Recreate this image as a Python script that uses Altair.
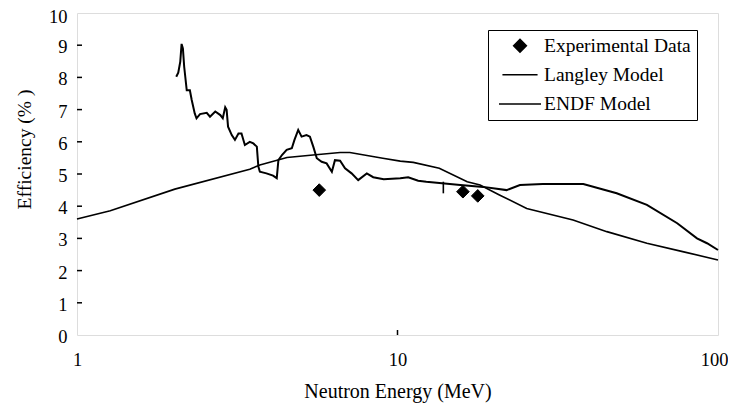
import altair as alt
import pandas as pd

# Langley model (smooth)
lang_e = [1.0, 1.27, 2.02, 3.46, 3.72, 4.52, 5.45, 6.62, 7.1, 9.0, 10.2, 11.2, 13.5,
          16.5, 18.1, 20.8, 25.3, 35.3, 45.0, 60.0, 77.6, 100.0]
lang_v = [3.60, 3.86, 4.53, 5.15, 5.28, 5.51, 5.59, 5.67, 5.67, 5.49, 5.40, 5.36, 5.18,
          4.76, 4.66, 4.35, 3.93, 3.57, 3.21, 2.85, 2.59, 2.33]

# ENDF model (jagged)
endf_e = [2.04, 2.07, 2.10, 2.12, 2.14, 2.16, 2.20, 2.25, 2.28, 2.33, 2.36, 2.42, 2.54,
          2.60, 2.70, 2.80, 2.85, 2.90, 2.93, 2.96, 3.04, 3.11, 3.19, 3.26, 3.34, 3.46,
          3.55, 3.64, 3.68, 3.72, 3.90, 4.09, 4.20, 4.25, 4.36, 4.51, 4.68, 4.77, 4.90,
          5.02, 5.20, 5.33, 5.46, 5.60, 5.80, 6.01, 6.24, 6.38, 6.62, 6.86, 7.19, 7.54,
          8.02, 8.40, 9.06, 10.2, 10.8, 11.6, 12.3, 15.7, 18.5, 21.9, 24.1, 28.4, 38.0,
          48.3, 60.0, 74.6, 86.0, 92.4, 100.0]
endf_v = [8.02, 8.15, 8.49, 9.04, 8.90, 8.33, 7.60, 7.60, 7.30, 6.88, 6.73, 6.86, 6.90,
          6.78, 6.94, 6.83, 6.73, 7.07, 6.99, 6.47, 6.21, 6.06, 6.26, 6.26, 5.90, 6.00,
          5.95, 5.85, 5.23, 5.07, 5.02, 4.95, 4.87, 5.43, 5.59, 5.75, 5.80, 6.06, 6.37,
          6.16, 6.21, 6.16, 5.85, 5.49, 5.38, 5.33, 5.07, 5.43, 5.41, 5.18, 5.02, 4.81,
          5.02, 4.90, 4.84, 4.87, 4.90, 4.79, 4.76, 4.66, 4.60, 4.50, 4.66, 4.69, 4.69,
          4.40, 4.04, 3.47, 3.00, 2.85, 2.64]

# Experimental data
exp_e = [5.7, 16.0, 17.8]
exp_v = [4.50, 4.45, 4.32]

# stray error bar near 14 MeV
bar_e = [13.9]
bar_lo = [4.40]
bar_hi = [4.76]

series = ["Experimental Data", "Langley Model", "ENDF Model"]
y_ticks = [1, 2, 3, 4, 5, 6, 7, 8, 9]
x_inner_ticks = [10]

FONT = "Liberation Serif, Times New Roman, serif"
W, H = 641, 322
LINE_SYM = "M-2.1,0L2.1,0"

lang_df = pd.DataFrame({"E": lang_e, "v": lang_v})
endf_df = pd.DataFrame({"E": endf_e, "v": endf_v})
exp_df = pd.DataFrame({"E": exp_e, "v": exp_v, "s": [series[0]] * len(exp_e)})
bar_df = pd.DataFrame({"E": bar_e, "lo": bar_lo, "hi": bar_hi})
yt_df = pd.DataFrame({"y": y_ticks})
xt_df = pd.DataFrame({"x": x_inner_ticks})

xscale = alt.Scale(type="log", domain=[1, 100])
yscale = alt.Scale(domain=[0, 10])

xax = alt.Axis(values=[1, 10, 100], format="d", title="Neutron Energy (MeV)",
               ticks=False, domain=False, grid=False, labelPadding=15,
               titlePadding=13, labelFontSize=18.5, titleFontSize=20,
               labelFont=FONT, titleFont=FONT, titleFontWeight="normal",
               labelColor="black", titleColor="black", labelFlush=False,
               labelOverlap=False,
               labelOffset={"condition": {"test": "datum.value == 100", "value": -4}, "value": 0})
yax = alt.Axis(values=list(range(0, 11)), title="Efficiency (% )",
               ticks=False, domain=False, grid=False, labelPadding=10,
               titlePadding=14, labelFontSize=18.5, titleFontSize=19.5,
               labelFont=FONT, titleFont=FONT, titleFontWeight="normal",
               labelColor="black", titleColor="black", labelOverlap=False,
               labelOffset={"condition": {"test": "datum.value == 10", "value": 3.5}, "value": 1.5},
               titleY=136)


def X(field):
    return alt.X(field, scale=xscale, axis=xax)


def Y(field):
    return alt.Y(field, scale=yscale, axis=yax)


lang = alt.Chart(lang_df).mark_line(color="black", strokeWidth=1.6).encode(x=X("E:Q"), y=Y("v:Q"))
endf = alt.Chart(endf_df).mark_line(color="black", strokeWidth=2).encode(x=X("E:Q"), y=Y("v:Q"))

leg = alt.Legend(title=None, orient="none", legendX=411, legendY=17,
                 labelFont=FONT, labelFontSize=19.5, labelColor="black",
                 strokeColor="black", fillColor="white",
                 padding=6, symbolOffset=15, labelOffset=13, rowPadding=8,
                 symbolStrokeWidth=1.6, labelLimit=300)

black3 = ["black", "black", "black"]
pts = alt.Chart(exp_df).mark_point(filled=False, strokeWidth=1, opacity=1, fillOpacity=1).encode(
    x=X("E:Q"),
    y=Y("v:Q"),
    shape=alt.Shape("s:N", scale=alt.Scale(domain=series, range=["diamond", LINE_SYM, LINE_SYM]), legend=leg),
    size=alt.Size("s:N", scale=alt.Scale(domain=series, range=[160, 400, 400]), legend=leg),
    color=alt.Color("s:N", scale=alt.Scale(domain=series, range=black3), legend=leg),
    fill=alt.Fill("s:N", scale=alt.Scale(domain=series, range=black3), legend=leg),
)

bar = alt.Chart(bar_df).mark_rule(color="black", strokeWidth=1.6).encode(
    x=X("E:Q"), y=Y("lo:Q"), y2="hi:Q")

ytk = alt.Chart(yt_df).mark_rule(color="black", strokeWidth=1.5).encode(
    y=Y("y:Q"), x=alt.value(0), x2=alt.value(5))
xtk = alt.Chart(xt_df).mark_rule(color="black", strokeWidth=1.5).encode(
    x=X("x:Q"), y=alt.value(H), y2=alt.value(H - 5))

chart = alt.layer(lang, endf, bar, ytk, xtk, pts).properties(
    width=W, height=H,
    autosize=alt.AutoSizeParams(type="none"),
    padding={"left": 69, "top": 5, "right": 10, "bottom": 68},
).configure_view(stroke="black", strokeWidth=2).configure(background="white")

chart.save("out.html", embed_options={"renderer": "svg", "actions": False})
